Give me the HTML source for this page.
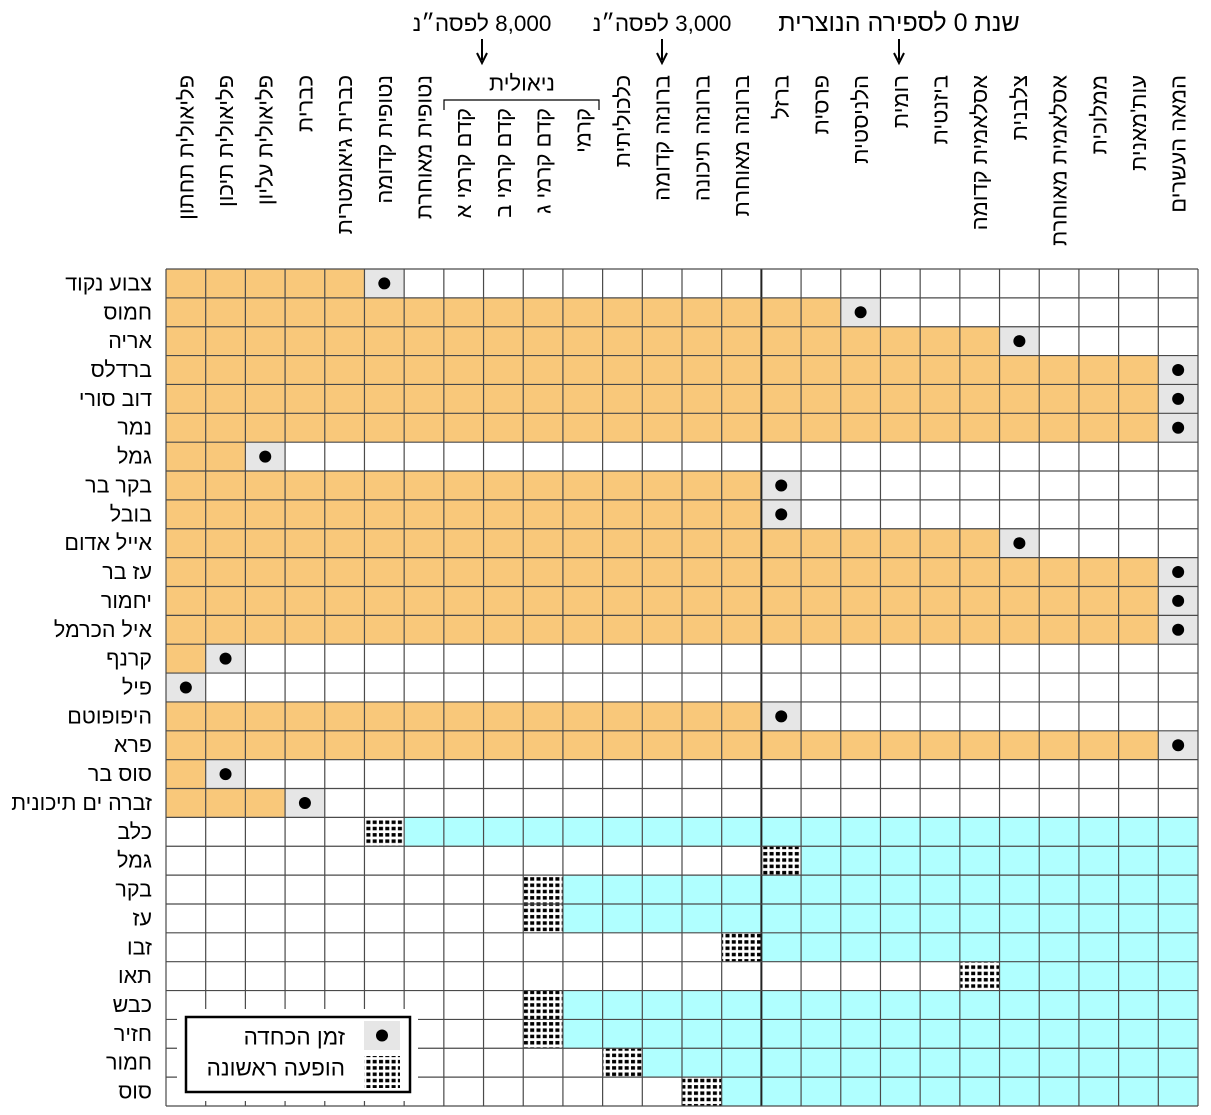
<!DOCTYPE html>
<html><head><meta charset="utf-8"><style>
body{margin:0;background:#fff}
svg{display:block}
text{font-family:"Liberation Sans","Noto Sans CJK SC",sans-serif;fill:#000}
</style></head><body>
<svg id="chart" width="1211" height="1115" viewBox="0 0 1211 1115" xmlns="http://www.w3.org/2000/svg">
<defs>
<pattern id="dots" patternUnits="userSpaceOnUse" width="6.3" height="6.3" x="0" y="0">
<rect width="6.3" height="6.3" fill="#fff"/>
<rect x="1" y="1.5" width="4" height="3.5" fill="#000"/>
</pattern>
</defs>
<g id="cells"></g>
<g id="grid"></g>
<g id="labels"></g>
<g id="annot"></g>
</svg>
<script>
const periods = ["פליאולית תחתון","פליאולית תיכון","פליאולית עליון","כברית","כברית גיאומטרית","נטופית קדומה","נטופית מאוחרת","קדם קרמי א","קדם קרמי ב","קדם קרמי ג","קרמי","כלכוליתית","ברונזה קדומה","ברונזה תיכונה","ברונזה מאוחרת","ברזל","פרסית","הלניסטית","רומית","ביזנטית","אסלאמית קדומה","צלבנית","אסלאמית מאוחרת","ממלוכית","עות'מאנית","המאה העשרים"];
const wildAnimals = ["צבוע נקוד","חמוס","אריה","ברדלס","דוב סורי","נמר","גמל","בקר בר","בובל","אייל אדום","עז בר","יחמור","איל הכרמל","קרנף","פיל","היפופוטם","פרא","סוס בר","זברה ים תיכונית"];
// index (0-based) of the period in which the animal went extinct
const extinctionPeriod = [5,17,21,25,25,25,2,15,15,21,25,25,25,1,0,15,25,1,3];
const domesticAnimals = ["כלב","גמל","בקר","עז","זבו","תאו","כבש","חזיר","חמור","סוס"];
// index (0-based) of the period of first domestic appearance
const firstAppearance = [5,15,9,9,14,20,9,9,11,13];

const NS="http://www.w3.org/2000/svg";
const X0=166, X1=1198, Y0=269, Y1=1106;
const nCols=periods.length, nRows=wildAnimals.length+domesticAnimals.length;
const cw=(X1-X0)/nCols, rh=(Y1-Y0)/nRows;
const xOf=j=>X0+j*cw, yOf=i=>Y0+i*rh;
function mk(tag,attrs,parent){const e=document.createElementNS(NS,tag);for(const k in attrs)e.setAttribute(k,attrs[k]);parent.appendChild(e);return e;}
const cells=document.getElementById('cells'), grid=document.getElementById('grid'), labels=document.getElementById('labels'), annot=document.getElementById('annot');

wildAnimals.forEach((name,i)=>{
  const ext=extinctionPeriod[i];
  for(let j=0;j<=ext;j++){
    const r=mk('rect',{x:xOf(j),y:yOf(i),width:cw,height:rh,fill:j<ext?'#F9C87A':'#E6E6E6'},cells);
    
    
  }
  const d=mk('circle',{cx:xOf(ext)+cw/2,cy:yOf(i)+rh/2,r:6,fill:'#000'},cells);
  
  
  const t=mk('text',{x:152,y:yOf(i)+rh/2,'text-anchor':'end','dominant-baseline':'central','font-size':21.5},labels);
  t.textContent=name;
  
  
});
domesticAnimals.forEach((name,k)=>{
  const i=wildAnimals.length+k, fa=firstAppearance[k];
  for(let j=fa;j<nCols;j++){
    const r=mk('rect',{x:xOf(j),y:yOf(i),width:cw,height:rh,fill:j>fa?'#B0FFFF':'url(#dots)'},cells);
    
    
  }
  const t=mk('text',{x:152,y:yOf(i)+rh/2,'text-anchor':'end','dominant-baseline':'central','font-size':21.5},labels);
  t.textContent=name;
  
  
});
for(let j=0;j<=nCols;j++){
  const l=mk('line',{x1:xOf(j),x2:xOf(j),y1:Y0,y2:Y1,stroke:j===15?'#222':'#4a4a4a','stroke-width':j===15?2:1.2},grid);
  
  
}
for(let i=0;i<=nRows;i++){
  const l=mk('line',{x1:X0,x2:X1,y1:yOf(i),y2:yOf(i),stroke:'#4a4a4a','stroke-width':1.2},grid);
  
  
}
periods.forEach((p,j)=>{
  const cx=xOf(j)+cw/2;
  const top=(j>=7&&j<=10)?108:75;
  const t=mk('text',{transform:`translate(${cx},${top}) rotate(-90)`,x:0,y:0,'text-anchor':'end','dominant-baseline':'central','font-size':22},labels);
  t.textContent=p;
  
  
});
// Neolithic bracket
const nt=mk('text',{x:522,y:83,'text-anchor':'middle','dominant-baseline':'central','font-size':22},annot);
nt.textContent='ניאולית';


const br=mk('path',{d:'M444,110 V100 H599 V110',fill:'none',stroke:'#000','stroke-width':1.2},annot);


// top annotations
const marks=[["8,000 לפסה\u05F4נ",482,22.5],["3,000 לפסה\u05F4נ",662,22.5],["שנת 0 לספירה הנוצרית",899,25]];
marks.forEach(([s,x,fs])=>{
  const t=mk('text',{x:x,y:31,'text-anchor':'middle','font-size':fs,direction:'rtl'},annot);
  t.textContent=s;
  
  
  const a=mk('path',{d:`M${x},39 V60 M${x-5},53 L${x},63 L${x+5},53`,fill:'none',stroke:'#000','stroke-width':2},annot);
  
  
});
</script>
<svg style="position:absolute;left:0;top:0" width="1211" height="1115">
<g>
<rect x="177" y="1009" width="241" height="92" fill="#fff"/>
<rect x="186" y="1017" width="224" height="75" fill="#fff" stroke="#000" stroke-width="2.5"/>
<rect x="364" y="1021" width="36" height="29" fill="#E6E6E6"/>
<circle cx="382" cy="1035.5" r="6" fill="#000"/>
<rect x="364" y="1056" width="36" height="32" fill="url(#dots)"/>
<text x="345" y="1037" text-anchor="end" dominant-baseline="central" font-size="22.5">זמן הכחדה</text>
<text x="345" y="1068" text-anchor="end" dominant-baseline="central" font-size="22.5">הופעה ראשונה</text>
</g>
</svg>
</body></html>
